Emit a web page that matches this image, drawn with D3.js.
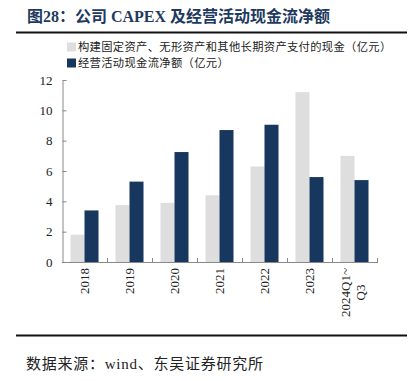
<!DOCTYPE html>
<html><head><meta charset="utf-8">
<script src="https://cdn.jsdelivr.net/npm/d3@7"></script>
<style>
body{margin:0;background:#fff;}
svg{display:block;}
</style></head>
<body><svg id="c" width="412" height="381"></svg>
<script>
const categories = ["2018","2019","2020","2021","2022","2023","2024Q1~\nQ3"];
const capex = [1.8, 3.75, 3.9, 4.4, 6.3, 11.2, 7.0];
const opCash = [3.4, 5.3, 7.25, 8.7, 9.05, 5.6, 5.4];
const seriesNames = ["构建固定资产、无形资产和其他长期资产支付的现金（亿元）","经营活动现金流净额（亿元）"];
const yTicks = [0,2,4,6,8,10,12];
const title = "图28：公司 CAPEX 及经营活动现金流净额";
const source = "数据来源：wind、东吴证券研究所";
const colors = ["#dedede","#17375e"];

const svg = d3.select("#c");
const serif = "'Liberation Serif','Times New Roman',serif";
const cjk = "'Noto Sans CJK SC','Noto Sans',sans-serif";

// title
svg.append("text").attr("x",27).attr("y",22).attr("font-family",serif+","+cjk)
  .attr("font-size",16).attr("font-weight","bold").attr("fill","#1f3a60")
  .attr("textLength",303).attr("lengthAdjust","spacing").text(title);
svg.append("line").attr("x1",16).attr("x2",407).attr("y1",32.5).attr("y2",32.5).attr("stroke","#111").attr("stroke-width",2);
svg.append("line").attr("x1",16).attr("x2",407).attr("y1",335.5).attr("y2",335.5).attr("stroke","#111").attr("stroke-width",2);
svg.append("text").attr("x",26).attr("y",368.5).attr("font-family",serif+","+cjk).attr("font-size",15)
  .attr("fill","#222").attr("textLength",237).attr("lengthAdjust","spacing").text(source);

// legend
seriesNames.forEach((n,i)=>{
  const y = 47 + i*16;
  svg.append("rect").attr("x",67).attr("y",y-4.5).attr("width",9).attr("height",9).attr("fill",colors[i]);
  svg.append("text").attr("x",78).attr("y",y+4).attr("font-family",cjk).attr("font-size",11.3)
    .attr("textLength",n.length*11.6).attr("lengthAdjust","spacing").attr("fill","#222").text(n);
});

const x = d3.scaleBand().domain(categories).range([62,377]).padding(0);
const y = d3.scaleLinear().domain([0,12]).range([262,80]);
const sub = d3.scaleBand().domain([0,1]).range([0,28]);

const g = svg.append("g");
categories.forEach((c,i)=>{
  const cx = x(c) + x.bandwidth()/2 - 14;
  [capex[i], opCash[i]].forEach((v,j)=>{
    g.append("rect").attr("x",cx+sub(j)).attr("width",sub.bandwidth())
      .attr("y",y(v)).attr("height",y(0)-y(v)).attr("fill",colors[j]);
  });
});

// y axis
const ya = svg.append("g").attr("transform","translate(62.5,0)")
  .call(d3.axisLeft(y).tickValues(yTicks).tickSizeInner(-4).tickSizeOuter(0).tickPadding(10));
ya.select(".domain").attr("stroke","#888");
ya.selectAll(".tick line").attr("stroke","#888");
ya.selectAll("text").attr("font-family",serif).attr("font-size",13).attr("fill","#222");

// x axis line & ticks
svg.append("line").attr("x1",62).attr("x2",378).attr("y1",262.5).attr("y2",262.5).attr("stroke","#888");
categories.forEach(c=>{
  const tx = Math.round(x(c)+x.bandwidth())+0.5;
  svg.append("line").attr("x1",tx).attr("x2",tx).attr("y1",262).attr("y2",258).attr("stroke","#888");
});

// x labels
categories.forEach(c=>{
  const lines = c.split("\n");
  const cx = x(c)+x.bandwidth()/2;
  const t = svg.append("g").attr("transform",`translate(${cx},268) rotate(-90)`);
  if(lines.length===1){
    t.append("text").attr("x",0).attr("y",4.5).attr("text-anchor","end")
      .attr("font-family",serif).attr("font-size",13).attr("fill","#222").text(lines[0]);
  } else {
    const tmp = t.append("text").attr("font-family",serif).attr("font-size",13).text(lines[0]);
    const w = tmp.node().getComputedTextLength(); tmp.remove();
    lines.forEach((l,k)=>{
      t.append("text").attr("x",-w/2).attr("y",-4.5+k*14.5).attr("text-anchor","middle")
        .attr("font-family",serif).attr("font-size",13).attr("fill","#222").text(l);
    });
  }
});
</script></body></html>
